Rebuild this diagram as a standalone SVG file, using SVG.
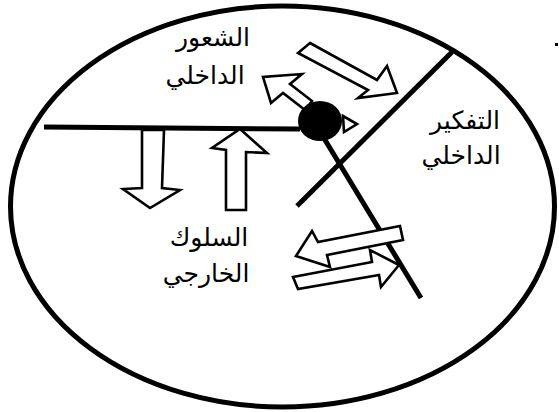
<svg xmlns="http://www.w3.org/2000/svg" width="559" height="412" viewBox="0 0 559 412">
<style>
.bold{fill:none;stroke:#000;stroke-width:5;stroke-linecap:butt}
.arr{fill:#fff;stroke:#000;stroke-width:2.6;stroke-linejoin:miter}
.lbl{font-family:"DejaVu Sans",sans-serif;font-size:25px;fill:#000;text-anchor:middle}
</style>
<rect width="559" height="412" fill="#fff"/>
<g id="frame">
<ellipse class="bold" cx="282.5" cy="206.5" rx="272" ry="200.5"/>
<rect x="555" y="43" width="3" height="3" fill="#000"/>
</g>
<g id="dividers">
<line class="bold" x1="44" y1="127" x2="300" y2="129"/>
<line class="bold" x1="452" y1="52" x2="297" y2="206"/>
<line class="bold" x1="322" y1="135" x2="421" y2="298"/>
</g>
<g id="arrows">
<polygon class="arr" points="310,43 377,80 387,66 397,93 358,98 368,90 298,53"/>
<polygon class="arr" points="312,101 290,84 302,74 263,77 271,103 283,93 305,110"/>
<polygon class="arr" points="142,130 164,130 162,188 180,190 150,208 123,189 142,188"/>
<polygon class="arr" points="226,210 226,150 212,148 240,129 267,153 246,152 246,210"/>
<polygon class="arr" points="293,277 372,262 370,250 399,265 381,287 379,275 298,289"/>
<polygon class="arr" points="400,226 403,240 327,255 330,267 296,256 312,231 318,242"/>
<polygon class="arr" points="343,116 357,124 344,132"/>
</g>
<g id="self">
<ellipse cx="320" cy="121" rx="22" ry="20" fill="#000"/>
</g>
<g id="feeling">
<text class="lbl" x="213" y="46">الشعور</text>
<text class="lbl" x="205" y="84">الداخلي</text>
</g>
<g id="thinking">
<text class="lbl" x="465" y="129">التفكير</text>
<text class="lbl" x="461" y="164">الداخلي</text>
</g>
<g id="behavior">
<text class="lbl" x="209" y="246">السلوك</text>
<text class="lbl" x="206" y="282">الخارجي</text>
</g>
</svg>
